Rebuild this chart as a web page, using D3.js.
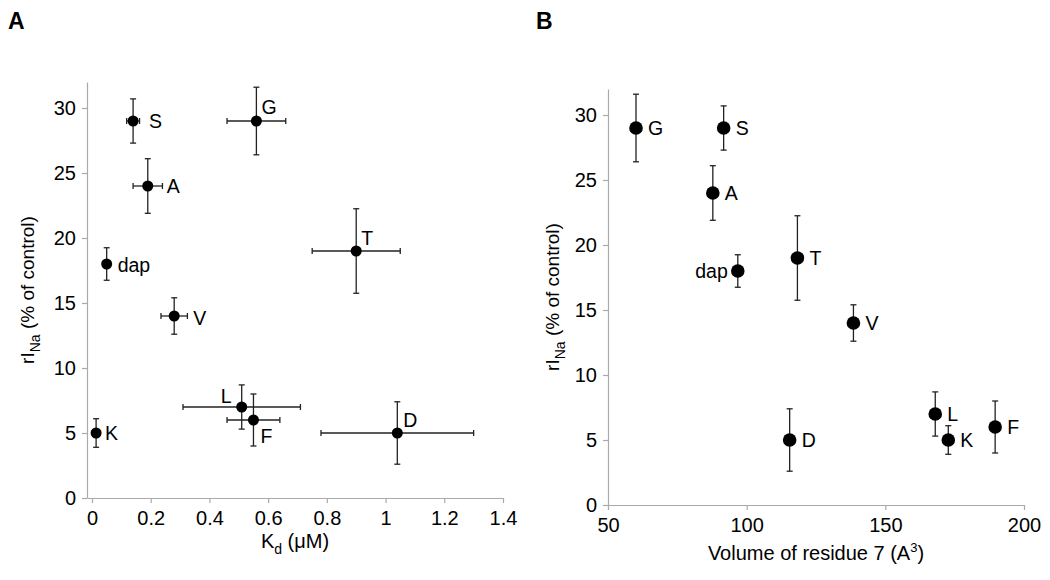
<!DOCTYPE html>
<html><head><meta charset="utf-8">
<script src="https://cdn.jsdelivr.net/npm/d3@7"></script>
<style>
body{margin:0;background:#fff;}
text{font-family:"Liberation Sans",Arial,Helvetica,sans-serif;}
</style></head>
<body><svg id="c" width="1050" height="580"></svg>
<script>
// ---- data ----
const residues = ["S","G","A","dap","T","V","L","F","K","D"];
const kd       = [0.14,0.56,0.19,0.05,0.90,0.28,0.51,0.55,0.014,1.04];
const kdErr    = [0.022,0.10,0.05,0,0.15,0.045,0.20,0.09,0,0.26];
const rINa     = [29,29,24,18,19,14,7,6,5,5];
const rINaErr  = [1.7,2.6,2.1,1.25,3.25,1.4,1.7,2.0,1.1,2.4];
const volume   = [91.7,60.1,87.8,96.8,118.3,138.5,168,189.6,172.7,115.5];
const yTicks   = [0,5,10,15,20,25,30];
const kdTicks  = [0,0.2,0.4,0.6,0.8,1,1.2,1.4];
const volTicks = [50,100,150,200];

const svg = d3.select("#c");
const axisColor = "#aaa";
const errColor = "#222";

// label placement (style)
const labA = {S:[16,7,"start"],G:[5,-7,"start"],A:[19,7,"start"],dap:[11,8,"start"],
  T:[5,-6,"start"],V:[19,9,"start"],L:[-10,-4,"end"],F:[7,23,"start"],K:[9,7,"start"],D:[6,-6,"start"]};
const labB = {dap:[-10,7,"end"]};

function panel(opts){
  const g = svg.append("g");
  const x = d3.scaleLinear().domain(opts.xDomain).range(opts.xRange);
  const y = d3.scaleLinear().domain([0,32]).range([opts.yBottom, opts.yBottom-32*13]);
  const ax = g.append("g").attr("transform",`translate(0,${opts.yBottom})`)
    .call(d3.axisBottom(x).tickValues(opts.xTicks).tickFormat(opts.fmt).tickSize(5).tickSizeOuter(0).tickPadding(8));
  const ay = g.append("g").attr("transform",`translate(${opts.xRange[0]},0)`)
    .call(d3.axisLeft(y).tickValues(yTicks).tickSize(5).tickSizeOuter(0).tickPadding(6));
  [ax,ay].forEach(a=>{
    a.selectAll("path,line").attr("stroke",axisColor).attr("stroke-width",1.2);
    a.selectAll("text").attr("font-size",20).attr("fill","#000");
  });
  const data = residues.map((r,i)=>({r, xv:opts.xVals[i], xe:opts.xErr?opts.xErr[i]:0, yv:rINa[i], ye:rINaErr[i]}));
  const cap = 3;
  const eb = g.append("g").attr("stroke",errColor).attr("stroke-width",1.3).attr("fill","none");
  data.forEach(d=>{
    const cx = x(d.xv), cy = y(d.yv);
    eb.append("line").attr("x1",cx).attr("x2",cx).attr("y1",y(d.yv+d.ye)).attr("y2",y(d.yv-d.ye));
    eb.append("line").attr("x1",cx-cap).attr("x2",cx+cap).attr("y1",y(d.yv+d.ye)).attr("y2",y(d.yv+d.ye));
    eb.append("line").attr("x1",cx-cap).attr("x2",cx+cap).attr("y1",y(d.yv-d.ye)).attr("y2",y(d.yv-d.ye));
    if(d.xe>0){
      eb.append("line").attr("y1",cy).attr("y2",cy).attr("x1",x(d.xv-d.xe)).attr("x2",x(d.xv+d.xe));
      eb.append("line").attr("y1",cy-cap).attr("y2",cy+cap).attr("x1",x(d.xv-d.xe)).attr("x2",x(d.xv-d.xe));
      eb.append("line").attr("y1",cy-cap).attr("y2",cy+cap).attr("x1",x(d.xv+d.xe)).attr("x2",x(d.xv+d.xe));
    }
  });
  g.selectAll("circle.pt").data(data).join("circle").attr("class","pt")
    .attr("cx",d=>x(d.xv)).attr("cy",d=>y(d.yv)).attr("r",opts.r).attr("fill","#000");
  g.selectAll("text.lab").data(data).join("text").attr("class","lab")
    .attr("x",d=>x(d.xv)+opts.lab(d.r)[0]).attr("y",d=>y(d.yv)+opts.lab(d.r)[1])
    .attr("text-anchor",d=>opts.lab(d.r)[2]).attr("font-size",19.5).text(d=>d.r);
  const yt = g.append("text").attr("transform",`translate(${opts.yTitleX},${(opts.yBottom*2-32*13)/2}) rotate(-90)`)
    .attr("text-anchor","middle").attr("font-size",19);
  yt.append("tspan").text("rI");
  yt.append("tspan").attr("dy",6).attr("font-size",14).text("Na");
  yt.append("tspan").attr("dy",-6).text(" (% of control)");
  svg.append("text").attr("x",opts.letterX).attr("y",29).attr("font-size",23).attr("font-weight","bold").text(opts.letter);
  return {x,y,g};
}

const A = panel({xDomain:[-0.017,1.4], xRange:[87,503], yBottom:498, xTicks:kdTicks,
  fmt:d3.format("~g"), xVals:kd, xErr:kdErr, r:5.5, lab:r=>labA[r], yTitleX:34, letter:"A", letterX:8});
const at = A.g.append("text").attr("x",295).attr("y",548).attr("text-anchor","middle").attr("font-size",20);
at.append("tspan").text("K");
at.append("tspan").attr("dy",6).attr("font-size",14).text("d");
at.append("tspan").attr("dy",-6).text(" (\u03BCM)");

const B = panel({xDomain:[50,200], xRange:[608,1024], yBottom:505, xTicks:volTicks,
  fmt:d3.format("d"), xVals:volume, xErr:null, r:6.8, lab:r=>labB[r]||[12,7,"start"], yTitleX:559, letter:"B", letterX:536});
const bt = B.g.append("text").attr("x",816).attr("y",560).attr("text-anchor","middle").attr("font-size",20);
bt.append("tspan").text("Volume of residue 7 (A");
bt.append("tspan").attr("dy",-8).attr("font-size",13).text("3");
bt.append("tspan").attr("dy",8).text(")");
</script></body></html>
